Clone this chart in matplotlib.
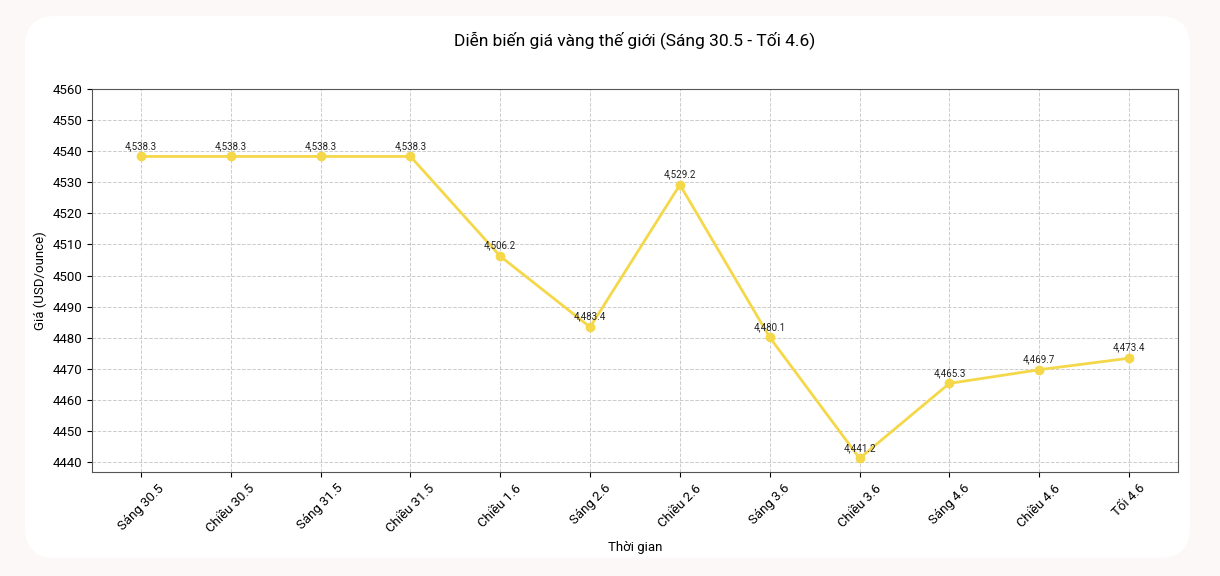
import matplotlib
matplotlib.use("Agg")
import matplotlib.pyplot as plt
from matplotlib.patches import FancyBboxPatch

categories = ["Sáng 30.5", "Chiều 30.5", "Sáng 31.5", "Chiều 31.5", "Chiều 1.6", "Sáng 2.6",
              "Chiều 2.6", "Sáng 3.6", "Chiều 3.6", "Sáng 4.6", "Chiều 4.6", "Tối 4.6"]
prices = [4538.3, 4538.3, 4538.3, 4538.3, 4506.2, 4483.4, 4529.2, 4480.1, 4441.2, 4465.3, 4469.7, 4473.4]
yticks = list(range(4440, 4561, 10))

plt.rcParams['font.family'] = ['Roboto', 'DejaVu Sans']

W, H = 1220, 576
fig = plt.figure(figsize=(W/100, H/100), dpi=100)
fig.patch.set_facecolor('#fcf8f8')
card = FancyBboxPatch((25/W, 18/H), (1190-25)/W, (560-18)/H,
                      boxstyle="round,pad=0,rounding_size=0.025",
                      transform=fig.transFigure, facecolor='white', edgecolor='none',
                      mutation_aspect=W/H, zorder=-10)
fig.patches.append(card)

ax = fig.add_axes([92/W, 1-472/H, (1178-92)/W, (472-89)/H])
ax.set_zorder(5)
ax.set_facecolor('white')
x = list(range(len(categories)))
ax.plot(x, prices, color='#f5d84a', linewidth=2, marker='o', markersize=6, zorder=3)
for xi, p in zip(x, prices):
    ax.annotate(f"{p:,.1f}", (xi, p), textcoords='offset points', xytext=(0, 4),
                ha='center', va='bottom', fontsize=7, color='#222222')
ax.set_xlim(-0.545, 11.545)
ax.set_ylim(4436.8, 4560)
ax.set_yticks(yticks)
ax.set_xticks(x)
ax.set_xticklabels(categories, rotation=45, ha='center', fontsize=9.5)
ax.tick_params(axis='y', labelsize=9.5)
ax.grid(True, linestyle='--', color='#cccccc', linewidth=0.7)
ax.set_axisbelow(True)
for s in ax.spines.values():
    s.set_color('#555555')
ax.set_xlabel("Thời gian", fontsize=9.5)
ax.set_ylabel("Giá (USD/ounce)", fontsize=9.5)
fig.text(635/W, 1-40/H, "Diễn biến giá vàng thế giới (Sáng 30.5 - Tối 4.6)", ha='center', va='center', fontsize=12.5)

fig.savefig("out.png", dpi=100, facecolor=fig.get_facecolor())
